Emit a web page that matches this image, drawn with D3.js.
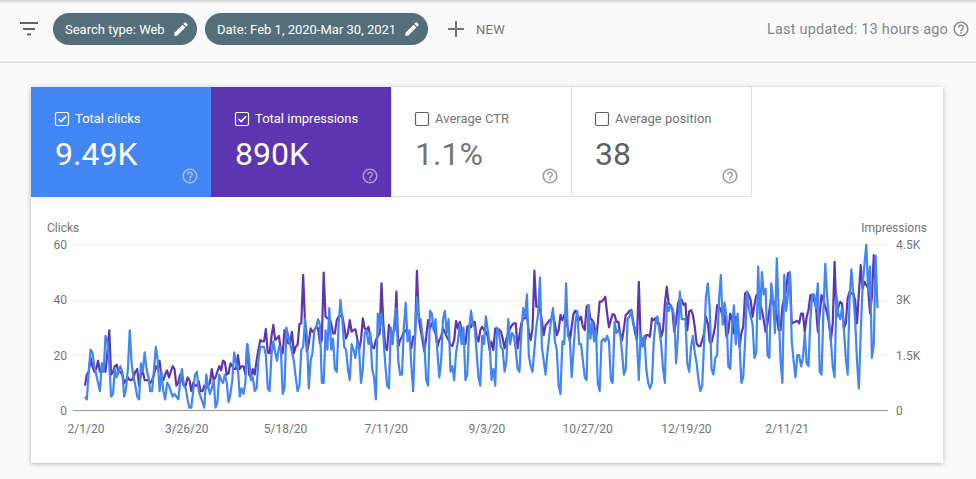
<!DOCTYPE html>
<html>
<head>
<meta charset="utf-8">
<script src="https://cdn.jsdelivr.net/npm/d3@7"></script>
<style>
  html, body { margin: 0; background: #fafafa; overflow: hidden; }
  svg { display: block; font-family: Roboto, sans-serif; }
  .axis .domain { display: none; }
  .axis text { font-family: Roboto, sans-serif; font-size: 12px; fill: #757575; }
  .grid line { stroke: #eeeeee; }
</style>
</head>
<body>
<svg id="chart" width="976" height="479"></svg>
<script>
const startDate = Date.UTC(2020, 1, 1);

const clicks = [
  5,4,14,22,21,16,13,10,7,17,
  14,27,25,17,5,6,15,12,14,16,
  14,5,8,15,29,17,12,9,5,4,
  17,14,21,15,12,7,7,15,23,18,
  7,14,7,4,10,9,7,5,6,5,
  4,10,15,9,8,4,1,1,7,13,
  14,7,5,3,1,13,9,6,8,11,
  1,3,13,11,10,13,10,3,6,11,
  21,17,15,5,8,6,10,24,19,11,
  12,7,8,18,23,23,23,20,8,
  7,20,25,21,18,23,23,6,8,30,27,24,
  21,18,12,7,9,22,23,33,27,8,
  18,21,29,30,33,31,10,10,29,22,
  37,22,26,15,14,31,40,33,23,22,
  15,11,24,22,19,25,22,10,15,28,
  29,24,28,15,12,4,35,30,35,27,
  17,9,8,30,24,33,37,18,13,13,
  30,39,25,29,16,7,27,41,33,33,
  27,24,11,9,36,35,29,33,21,12,
  18,33,36,28,33,14,16,11,21,25,
  31,24,30,11,13,29,36,31,30,21,
  12,9,27,24,34,29,24,11,15,9,
  30,28,
  23,22,14,18,33,24,28,27,22,15,
  14,28,37,34,42,20,16,14,22,30,35,
  48,23,18,13,21,27,33,37,25,22,
  9,6,25,24,46,27,26,12,22,32,
  36,24,24,18,12,11,38,26,32,25,
  29,10,7,25,26,25,27,25,11,10,
  32,28,29,28,21,13,15,33,34,36,
  31,30,25,11,28,23,27,15,10,8,
  10,25,32,34,29,24,15,10,39,36,
  38,37,34,17,27,43,33,33,33,17,
  14,23,27,21,17,11,7,9,25,41,
  46,37,
  15,13,19,20,40,49,31,39,34,16,
  15,30,38,24,35,24,10,12,25,43,
  37,34,31,19,21,52,33,50,42,44,
  20,19,46,40,28,55,36,18,10,49,
  36,42,50,25,18,12,20,20,16,19,
  28,17,16,33,42,42,37,46,14,13,
  36,53,41,33,25,16,12,42,35,33,
  37,29,19,13,40,51,42,33,18,8,
  28,45,53,60,43,52,19,24,56,37
];

const impressions = [
  675,975,1050,1425,1200,1050,1125,1350,1050,1050,
  1275,1050,1575,2175,975,1050,1200,1240,1050,1050,
  975,750,825,900,825,825,900,1050,1125,675,
  975,1050,825,825,825,750,825,975,1200,1125,
  1350,900,825,975,1090,900,1050,1200,1125,675,
  750,975,825,675,675,900,825,525,750,675,
  675,790,525,525,675,600,675,750,1125,825,
  900,1050,1200,1090,1350,1310,975,1010,1275,1200,
  1125,1125,1500,1125,1200,1200,975,1800,975,900,
  1125,975,1350,1650,1910,1875,1875,2210,1575,
  1550,2000,2320,1910,1955,2020,1640,1550,2180,1955,
  1820,1820,2135,1550,1730,1775,2345,2360,3675,2360,
  1595,1820,2225,2135,2180,2270,2225,1820,1910,3740,
  2545,2500,2500,2360,2090,2090,2450,2545,2560,2560,
  2270,1955,2090,2450,2135,2180,2200,1955,1640,1910,
  2500,2225,2180,2270,2000,1730,1685,1910,2000,2090,
  3450,2360,1730,1640,2320,2090,2090,2180,3220,1730,
  1910,2000,2135,2180,2045,1910,1685,2000,2000,3785,
  2500,2180,1910,1595,2000,2450,2225,2360,2225,2090,
  1730,1910,2000,2225,2135,2000,1910,1775,1750,1910,
  2425,2225,2405,2180,1820,1800,2270,2300,2255,2405,
  2405,2000,1865,2180,2270,2180,2135,2000,1640,1865,
  1640,2225,2180,
  2200,2135,1955,1685,1955,2090,2225,2315,2360,2360,1685,
  2045,2360,2500,2500,2590,2135,1910,2225,3790,2815,
  2815,2725,2450,2045,2315,2360,2450,2450,2590,2360,
  2045,2180,2590,2450,2590,2450,2225,1865,2270,2635,
  2705,2590,2450,2545,2270,2180,2815,2860,2500,2450,
  2360,1910,2360,2950,2950,3000,3085,2635,2255,2450,
  2615,2590,2405,2405,2090,1910,2225,2590,2635,2705,
  2725,2405,2090,1910,3490,1910,1955,1820,2045,2045,
  2000,2500,2450,2500,2360,2360,2000,2180,2905,3360,
  2905,2860,2725,2135,2405,2905,3015,3000,2860,2905,
  2180,2680,2725,2590,2270,1820,1745,1745,1910,2090,
  2545,2360,
  1860,1845,2045,2315,2855,2810,2720,2540,2585,2000,
  2135,2630,2450,2090,2540,2360,1725,2090,2270,3175,
  3220,3130,2990,2540,2855,3130,3085,2900,2720,2450,
  2135,2360,2720,3040,2900,2945,2540,2180,2180,2810,
  3040,3265,3715,3745,2360,2385,2405,2430,2360,2630,
  2630,2135,2540,2720,3130,3130,2990,2810,2135,2630,
  3130,2990,2810,2630,2360,1905,2360,4030,2540,2810,
  2945,2900,2225,2360,3040,3220,3175,3175,2990,2360,
  3175,3940,3310,3490,3400,3310,2630,3085,4215,3310
];

const dateTicks = ["2020-02-01","2020-03-26","2020-05-18","2020-07-11","2020-09-03","2020-10-27","2020-12-19","2021-02-11"];
const clickTicks = [0, 20, 40, 60];
const impressionTicks = [0, 1500, 3000, 4500];
const impressionLabels = ["0", "1.5K", "3K", "4.5K"];

const tileLabels = ["Total clicks", "Total impressions", "Average CTR", "Average position"];
const tileValues = ["9.49K", "890K", "1.1%", "38"];
const tileFills = ["#4285f4", "#5e35b1", "#ffffff", "#ffffff"];
const tileChecked = [true, true, false, false];
const tileValueInk = ["#ffffff", "#ffffff", "#757575", "#616161"];

const chipLabels = ["Search type: Web", "Date: Feb 1, 2020-Mar 30, 2021"];

const helpIcon = "M11 18h2v-2h-2v2zm1-16C6.48 2 2 6.48 2 12s4.48 10 10 10 10-4.48 10-10S17.52 2 12 2zm0 18c-4.41 0-8-3.59-8-8s3.59-8 8-8 8 3.59 8 8-3.59 8-8 8zm0-14c-2.21 0-4 1.79-4 4h2c0-1.1.9-2 2-2s2 .9 2 2c0 2-3 1.75-3 5h2c0-2.25 3-2.5 3-5 0-2.21-1.79-4-4-4z";
const pencilIcon = "M3 17.25V21h3.75L17.81 9.94l-3.75-3.75L3 17.25zM20.71 7.04c.39-.39.39-1.02 0-1.41l-2.34-2.34c-.39-.39-1.02-.39-1.41 0l-1.83 1.83 3.75 3.75 1.83-1.83z";

const svg = d3.select("#chart");

const defs = svg.append("defs");
const shadow = defs.append("filter").attr("id", "shadow")
  .attr("x", "-5%").attr("y", "-5%").attr("width", "110%").attr("height", "110%");
shadow.append("feDropShadow").attr("dx", 0).attr("dy", 1).attr("stdDeviation", 2.5)
  .attr("flood-color", "#000").attr("flood-opacity", 0.28);
const topShade = defs.append("linearGradient").attr("id", "topShade")
  .attr("x1", 0).attr("x2", 0).attr("y1", 0).attr("y2", 1);
topShade.append("stop").attr("offset", 0).attr("stop-color", "#d4d4d4");
topShade.append("stop").attr("offset", 1).attr("stop-color", "#fafafa");

drawToolbar();
drawCard();
drawChart();

function drawToolbar() {
  svg.append("rect").attr("width", 976).attr("height", 4).attr("fill", "url(#topShade)");
  svg.append("rect").attr("y", 61.5).attr("width", 976).attr("height", 1.5).attr("fill", "#e0e0e0");

  const filter = svg.append("g").attr("stroke", "#5f6368").attr("stroke-width", 2);
  [[20, 38, 23], [23, 35, 29], [27, 31, 34.5]].forEach(([x1, x2, y]) => {
    filter.append("line").attr("x1", x1).attr("x2", x2).attr("y1", y).attr("y2", y);
  });

  const chipX = [53, 205];
  const chipW = [144, 223];
  const chips = svg.selectAll(".chip").data(chipLabels).join("g").attr("class", "chip");
  chips.append("rect")
    .attr("x", (d, i) => chipX[i]).attr("y", 13)
    .attr("width", (d, i) => chipW[i]).attr("height", 32)
    .attr("rx", 16).attr("fill", "#546e7a");
  chips.append("text")
    .attr("x", (d, i) => chipX[i] + 12).attr("y", 33.5)
    .attr("font-size", 13).attr("fill", "#fff")
    .text((d) => d);
  chips.append("path")
    .attr("d", pencilIcon).attr("fill", "#fff")
    .attr("transform", (d, i) => `translate(${chipX[i] + chipW[i] - 25},${20}) scale(0.75)`);

  svg.append("path").attr("d", "M456 21v16M448 29h16").attr("stroke", "#757575").attr("stroke-width", 2);
  svg.append("text").attr("x", 476).attr("y", 33.5)
    .attr("font-size", 13).attr("letter-spacing", 0.3).attr("fill", "#757575").text("NEW");
  svg.append("text").attr("x", 767).attr("y", 34)
    .attr("font-size", 14.5).attr("fill", "#80868b").attr("letter-spacing", 0.2)
    .text("Last updated: 13 hours ago");
  svg.append("path").attr("d", helpIcon).attr("fill", "#8a8a8a")
    .attr("transform", "translate(952,20) scale(0.75)");
}

function drawCard() {
  svg.append("rect").attr("x", 31).attr("y", 87).attr("width", 912).attr("height", 376)
    .attr("fill", "#fff").attr("filter", "url(#shadow)");

  const tileW = 180;
  const tiles = svg.selectAll(".tile").data(tileLabels).join("g")
    .attr("class", "tile")
    .attr("transform", (d, i) => `translate(${31 + i * tileW},87)`);

  // unchecked tiles get a hairline border, so they sit on half pixels
  tiles.append("rect")
    .attr("x", (d, i) => (tileChecked[i] ? 0 : 0.5))
    .attr("y", (d, i) => (tileChecked[i] ? 0 : -0.5))
    .attr("width", tileW).attr("height", 110)
    .attr("fill", (d, i) => tileFills[i])
    .attr("stroke", (d, i) => (tileChecked[i] ? "none" : "#e0e0e0"));

  const ink = (i) => (tileChecked[i] ? "#fff" : "#757575");
  tiles.append("rect")
    .attr("x", 24.5).attr("y", 25.5).attr("width", 13).attr("height", 13).attr("rx", 1.5)
    .attr("fill", "none").attr("stroke", (d, i) => (tileChecked[i] ? "#fff" : "#616161")).attr("stroke-width", 1.2);
  tiles.filter((d, i) => tileChecked[i]).append("path")
    .attr("d", "M27.5 32l2.6 2.6 5-5.2").attr("fill", "none").attr("stroke", "#fff").attr("stroke-width", 1.6);
  tiles.append("text")
    .attr("x", 44).attr("y", 36).attr("font-size", 13)
    .attr("fill", (d, i) => ink(i)).text((d) => d);
  tiles.append("text")
    .attr("x", 24).attr("y", 78).attr("font-size", 32)
    .attr("fill", (d, i) => tileValueInk[i])
    .text((d, i) => tileValues[i]);
  tiles.append("path")
    .attr("d", helpIcon)
    .attr("fill", (d, i) => (tileChecked[i] ? "rgba(255,255,255,0.5)" : "#9e9e9e"))
    .attr("transform", "translate(150,80) scale(0.75)");
}

function drawChart() {
  const left = 73, right = 888, top = 244.5, bottom = 410.5;

  const x = d3.scaleUtc()
    .domain([startDate, d3.utcDay.offset(startDate, clicks.length - 1)])
    .range([85, 877.5]);
  const yClicks = d3.scaleLinear().domain([0, 60]).range([bottom, top]);
  const yImpressions = d3.scaleLinear().domain([0, 4500]).range([bottom, top]);

  svg.append("g").attr("class", "axis grid")
    .attr("transform", `translate(${left},0)`)
    .call(d3.axisLeft(yClicks).tickValues(clickTicks).tickSize(-(right - left)).tickPadding(6));

  svg.append("line").attr("x1", left).attr("x2", right).attr("y1", bottom).attr("y2", bottom)
    .attr("stroke", "#9e9e9e").attr("stroke-width", 1);

  svg.append("g").attr("class", "axis")
    .attr("transform", `translate(${right},0)`)
    .call(d3.axisRight(yImpressions).tickValues(impressionTicks).tickSize(0).tickPadding(8)
      .tickFormat((d, i) => impressionLabels[i]));

  svg.append("g").attr("class", "axis")
    .attr("transform", `translate(0.5,${bottom})`)
    .call(d3.axisBottom(x).tickValues(dateTicks.map((d) => new Date(d))).tickSize(0).tickPadding(14)
      .tickFormat(d3.utcFormat("%-m/%-d/%y")));

  svg.append("text").attr("x", 47).attr("y", 232).attr("font-size", 12).attr("fill", "#757575").text("Clicks");
  svg.append("text").attr("x", 927).attr("y", 232).attr("text-anchor", "end")
    .attr("font-size", 12).attr("fill", "#757575").text("Impressions");

  const line = (values, y) =>
    d3.line().x((d, i) => x(d3.utcDay.offset(startDate, i))).y((d) => y(d))(values);

  svg.append("path").attr("d", line(impressions, yImpressions))
    .attr("fill", "none").attr("stroke", "#5e35b1").attr("stroke-width", 2.2).attr("stroke-linejoin", "round");
  svg.append("path").attr("d", line(clicks, yClicks))
    .attr("fill", "none").attr("stroke", "#4285f4").attr("stroke-width", 2.2).attr("stroke-linejoin", "round");
}
</script>
</body>
</html>
